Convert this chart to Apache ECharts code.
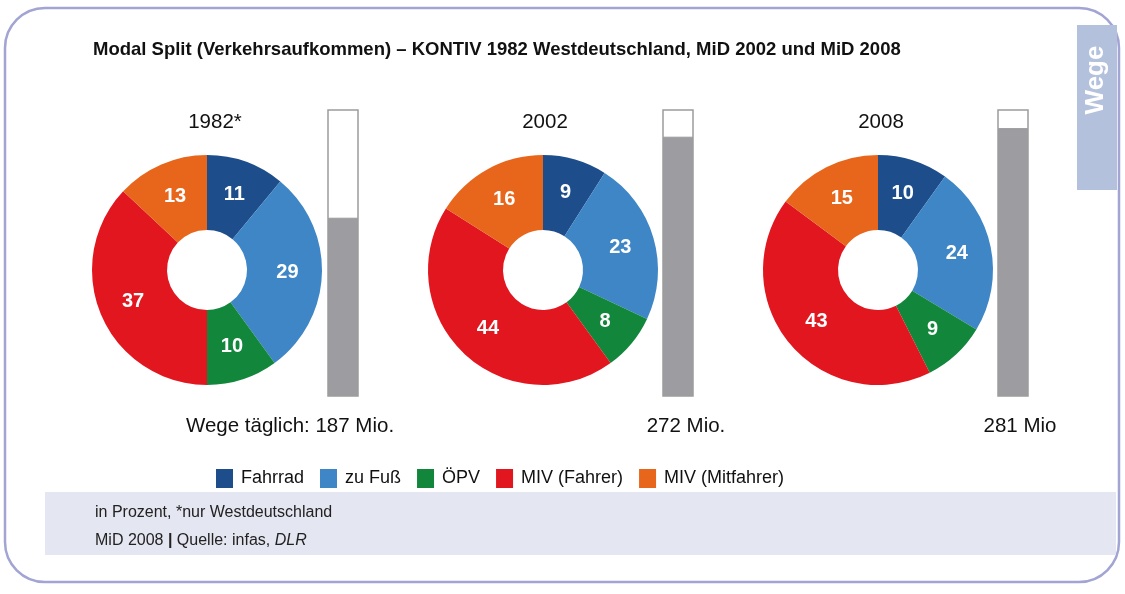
<!DOCTYPE html>
<html>
<head>
<meta charset="utf-8">
<script src="https://cdn.jsdelivr.net/npm/echarts@6/dist/echarts.min.js"></script>
<style>
  html, body { margin: 0; padding: 0; background: #fff; }
  #main { width: 1125px; height: 594px; }
</style>
</head>
<body>
<div id="main"></div>
<script>
// Daten
var modes = ['Fahrrad', 'zu Fuß', 'ÖPV', 'MIV (Fahrer)', 'MIV (Mitfahrer)'];
var modeColors = ['#1d4e8b', '#3f86c6', '#12873b', '#e2161f', '#e8661b'];
var years = ['1982*', '2002', '2008'];
var share1982 = [11, 29, 10, 37, 13];
var share2002 = [9, 23, 8, 44, 16];
var share2008 = [10, 24, 9, 43, 15];
var tripsDaily = [187, 272, 281]; // Mio. Wege täglich
var tripLabels = ['Wege täglich: 187 Mio.', '272 Mio.', '281 Mio'];
var tripsMax = 300;

var FONT = 'Liberation Sans, Arial, sans-serif';
var shares = [share1982, share2002, share2008];
var pieX = [207, 543, 878];
var barLeft = [328, 663, 998];
var yearX = [215, 545, 881];
var tripX = [290, 686, 1020];

var myChart = echarts.init(document.getElementById('main'));

var series = [];
var grids = [], xAxes = [], yAxes = [];

shares.forEach(function (vals, i) {
  // Ring
  series.push({
    type: 'pie',
    center: [pieX[i], 270],
    radius: [40, 115],
    startAngle: 90,
    clockwise: true,
    silent: true,
    label: {
      show: true,
      position: 'inside',
      color: '#fff',
      fontFamily: FONT,
      fontWeight: 'bold',
      fontSize: 20,
      formatter: '{c}'
    },
    labelLine: { show: false },
    data: modes.map(function (m, k) {
      return { name: m, value: vals[k], itemStyle: { color: modeColors[k] } };
    })
  });

  // Säule Wege täglich
  grids.push({ left: barLeft[i], top: 110, width: 30, height: 286 });
  xAxes.push({ gridIndex: i, type: 'category', data: [years[i]], show: false });
  yAxes.push({ gridIndex: i, type: 'value', min: 0, max: tripsMax, show: false });
  series.push({
    type: 'bar',
    xAxisIndex: i,
    yAxisIndex: i,
    barWidth: '100%',
    silent: true,
    showBackground: true,
    backgroundStyle: { color: '#fff', borderColor: '#9c9c9c', borderWidth: 1.5 },
    itemStyle: { color: '#9d9ca1', borderColor: '#9c9c9c', borderWidth: 1 },
    data: [tripsDaily[i]]
  });
});

var graphics = [
  // Rahmen
  { type: 'rect', z: -10, shape: { x: 5, y: 8, width: 1114, height: 574, r: 40 },
    style: { fill: '#fff', stroke: '#a2a4d3', lineWidth: 2.5 } },
  // Reiter "Wege"
  { type: 'rect', z: -5, shape: { x: 1077, y: 25, width: 40, height: 165 },
    style: { fill: '#b3c1dd' } },
  { type: 'text', x: 1096, y: 80, rotation: Math.PI / 2,
    style: { text: 'Wege', fill: '#fff', font: 'bold 26px ' + FONT, align: 'center', verticalAlign: 'middle' } },
  // Fußzeile
  { type: 'rect', z: -5, shape: { x: 45, y: 492, width: 1071, height: 63 },
    style: { fill: '#e4e6f1' } },
  { type: 'text', x: 95, y: 513,
    style: { text: 'in Prozent, *nur Westdeutschland', fill: '#222', font: '16px ' + FONT, verticalAlign: 'middle' } },
  { type: 'text', x: 95, y: 541,
    style: {
      text: 'MiD 2008 {b|\u007c} Quelle: infas, {i|DLR}', fill: '#222', font: '16px ' + FONT, verticalAlign: 'middle',
      rich: { b: { fontWeight: 'bold', fontSize: 16, fontFamily: FONT }, i: { fontStyle: 'italic', fontSize: 16, fontFamily: FONT } }
    } },
  // Titel
  { type: 'text', x: 93, y: 50,
    style: { text: 'Modal Split (Verkehrsaufkommen) – KONTIV 1982 Westdeutschland, MiD 2002 und MiD 2008',
      fill: '#111', font: 'bold 18.5px ' + FONT, verticalAlign: 'middle' } }
];

years.forEach(function (y, i) {
  graphics.push({ type: 'text', x: yearX[i], y: 122,
    style: { text: y, fill: '#111', font: '20.5px ' + FONT, align: 'center', verticalAlign: 'middle' } });
  graphics.push({ type: 'text', x: tripX[i], y: 426,
    style: { text: tripLabels[i], fill: '#111', font: '20.5px ' + FONT, align: 'center', verticalAlign: 'middle' } });
});

var option = {
  animation: false,
  backgroundColor: '#fff',
  grid: grids,
  xAxis: xAxes,
  yAxis: yAxes,
  legend: {
    left: 211,
    top: 464,
    itemWidth: 17,
    itemHeight: 19,
    itemGap: 16,
    icon: 'rect',
    selectedMode: false,
    textStyle: { fontFamily: FONT, fontSize: 18, color: '#111', padding: [0, 0, 0, 3] },
    data: modes
  },
  graphic: graphics,
  series: series
};

myChart.setOption(option);
</script>
</body>
</html>
